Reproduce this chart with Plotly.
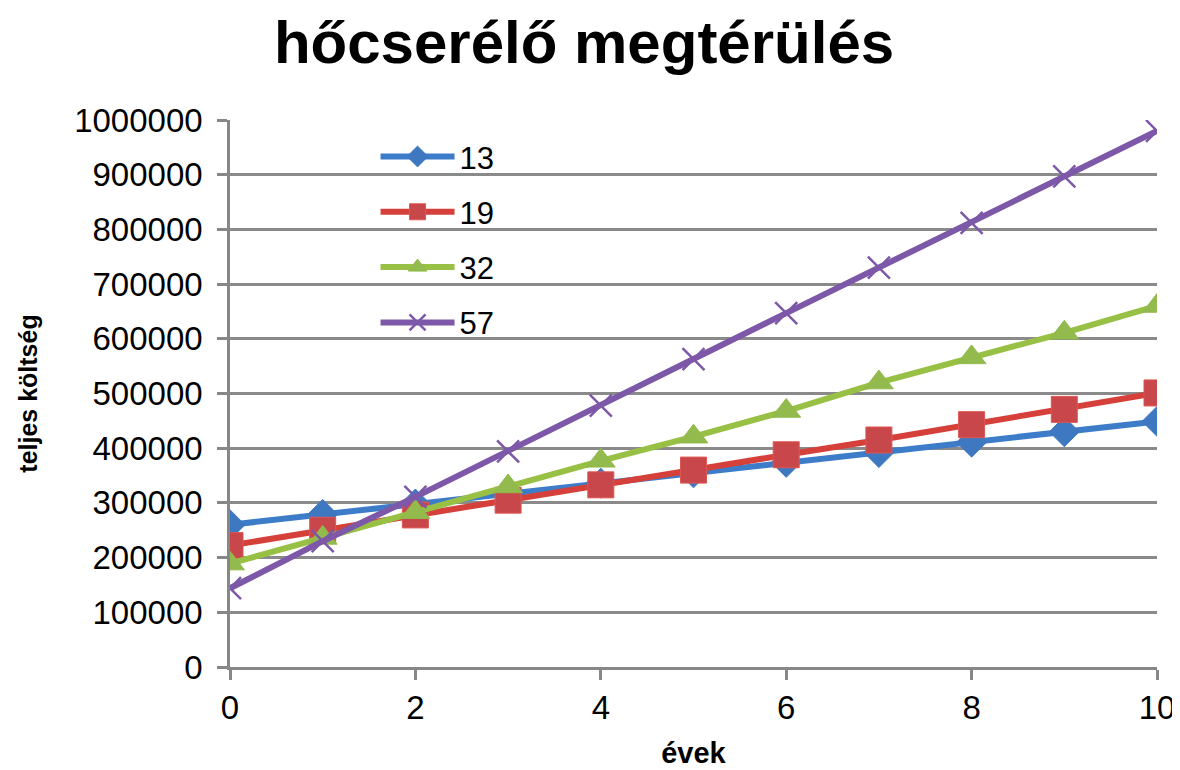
import plotly.graph_objects as go

years = [0, 1, 2, 3, 4, 5, 6, 7, 8, 9, 10]
series_names = ["13", "19", "32", "57"]
v13 = [260000, 279000, 298000, 317000, 336000, 355000, 374000, 392000, 411000, 430000, 449000]
v19 = [222000, 250000, 278000, 305000, 333000, 360000, 388000, 415000, 443000, 471000, 501000]
v32 = [189000, 236000, 283000, 330000, 377000, 421000, 468000, 520000, 566000, 611000, 660000]
v57 = [144000, 230000, 311000, 394000, 478000, 563000, 647000, 730000, 812000, 897000, 980000]
values = [v13, v19, v32, v57]

line_colors = ["#3D7CC9", "#D6403B", "#97C045", "#7D58A8"]
marker_colors = ["#3E78C0", "#C8474A", "#92BA4C", "#7D58A8"]
marker_borders = ["#3E78C0", "#E05552", "#92BA4C", "#7D58A8"]
symbols = ["diamond", "square", "triangle-up", "x-thin"]
sizes = [23, 26, 25, 22]

fig = go.Figure()
for i, (name, vals) in enumerate(zip(series_names, values)):
    if symbols[i] == "x-thin":
        marker = dict(symbol=symbols[i], size=sizes[i], color=marker_colors[i],
                      line=dict(color=marker_colors[i], width=2.5))
    else:
        marker = dict(symbol=symbols[i], size=sizes[i], color=marker_colors[i],
                      line=dict(color=marker_borders[i], width=1))
    fig.add_trace(go.Scatter(
        x=years, y=vals, name=name, mode="lines+markers",
        line=dict(color=line_colors[i], width=6),
        marker=marker, legendgroup=name,
    ))

font = "Liberation Sans, Arial, sans-serif"
fig.update_layout(
    width=1172, height=762,
    margin=dict(l=222, r=23, t=112, b=103),
    paper_bgcolor="white", plot_bgcolor="white",
    font=dict(family=font, size=33, color="black"),
    title=dict(text="<b>hőcserélő megtérülés</b>", x=0.4915, xanchor="center",
               y=0.955, yanchor="middle", font=dict(size=60, color="black")),
    showlegend=True,
    legend=dict(x=0.157, y=0.982, xanchor="left", yanchor="top",
                bgcolor="rgba(0,0,0,0)", font=dict(size=31),
                tracegroupgap=12, itemwidth=74),
    xaxis=dict(range=[0, 10], dtick=2, showgrid=False, zeroline=False,
               showline=True, linecolor="#878787", linewidth=2.5,
               ticks="outside", tickcolor="#878787", tickwidth=2.5, ticklen=10,
               tickfont=dict(size=33), automargin=False,
               title=dict(text="<b>évek</b>", font=dict(size=29), standoff=18)),
    yaxis=dict(range=[0, 1000000], dtick=100000, tickformat="d",
               showgrid=True, gridcolor="#8a8a8a", gridwidth=2.5, zeroline=False,
               showline=True, linecolor="#878787", linewidth=2.5,
               ticks="outside", tickcolor="#878787", tickwidth=2.5, ticklen=10,
               ticklabelstandoff=8, automargin=False,
               tickfont=dict(size=33),
               title=dict(text="<b>teljes költség</b>", font=dict(size=25), standoff=30)),
)
fig.write_html("out.html")
